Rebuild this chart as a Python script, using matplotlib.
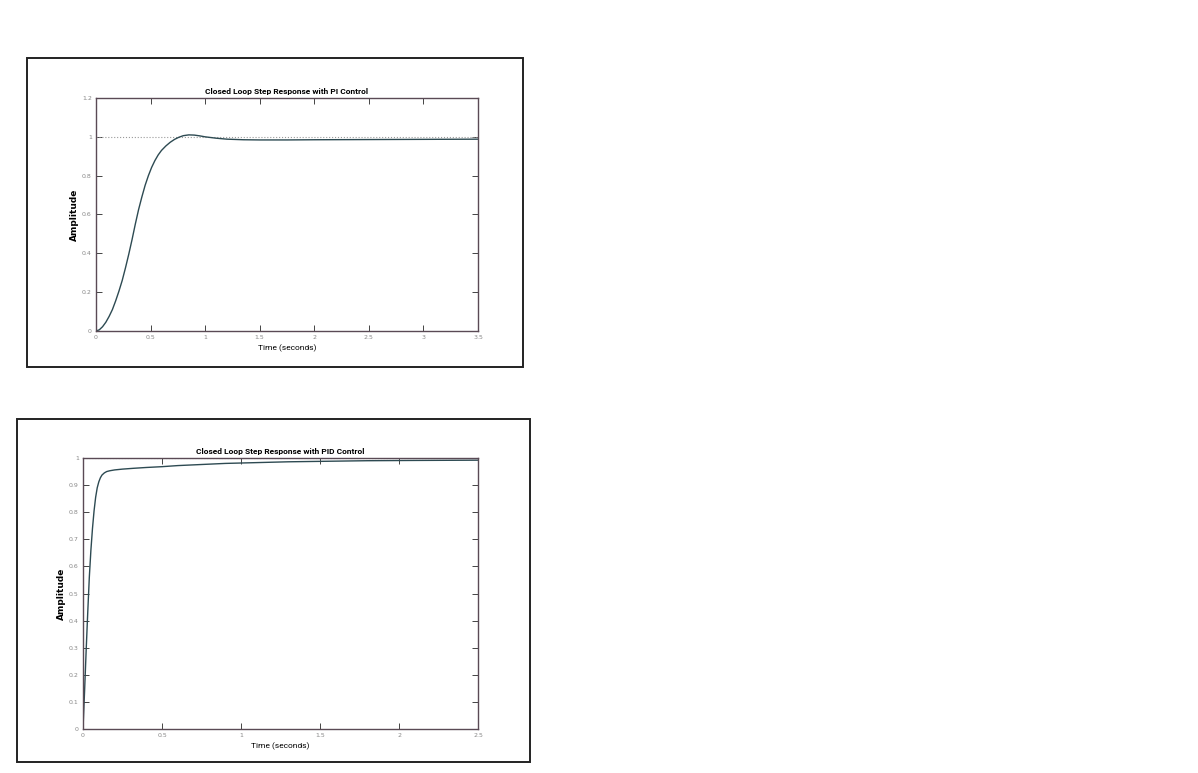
import matplotlib
matplotlib.use('Agg')
import matplotlib.pyplot as plt
from matplotlib.patches import Rectangle

# ---- data read from the scanned step responses ----
PI_T = [0, 0.03, 0.06, 0.09, 0.12, 0.15, 0.18, 0.21, 0.24, 0.27, 0.30, 0.33,
        0.36, 0.39, 0.42, 0.45, 0.48, 0.51, 0.54, 0.57, 0.60, 0.64, 0.68,
        0.72, 0.76, 0.80, 0.85, 0.90, 0.95, 1.0, 1.1, 1.2, 1.35, 1.5, 1.75,
        2.0, 2.5, 3.0, 3.5]
PI_Y = [0, 0.006, 0.022, 0.045, 0.075, 0.11, 0.155, 0.205, 0.26, 0.325,
        0.395, 0.47, 0.55, 0.625, 0.69, 0.75, 0.80, 0.843, 0.878, 0.907,
        0.93, 0.953, 0.972, 0.987, 0.998, 1.006, 1.01, 1.009, 1.005, 1.0,
        0.993, 0.988, 0.985, 0.984, 0.984, 0.985, 0.986, 0.987, 0.988]

PID_T = [0, 0.01, 0.02, 0.03, 0.04, 0.05, 0.06, 0.07, 0.08, 0.09, 0.1,
         0.11, 0.12, 0.135, 0.15, 0.17, 0.2, 0.25, 0.32, 0.4, 0.5, 0.6,
         0.75, 0.9, 1.1, 1.3, 1.55, 1.8, 2.1, 2.5]
PID_Y = [0, 0.14, 0.29, 0.43, 0.56, 0.66, 0.74, 0.805, 0.855, 0.89, 0.912,
         0.927, 0.937, 0.945, 0.95, 0.953, 0.956, 0.959, 0.962, 0.965, 0.968,
         0.972, 0.976, 0.98, 0.983, 0.986, 0.988, 0.99, 0.991, 0.992]

PI_XTICKS = [0, 0.5, 1, 1.5, 2, 2.5, 3, 3.5]
PI_XLABELS = ['0', '0.5', '1', '1.5', '2', '2.5', '3', '3.5']
PI_YTICKS = [0, 0.2, 0.4, 0.6, 0.8, 1, 1.2]
PI_YLABELS = ['0', '0.2', '0.4', '0.6', '0.8', '1', '1.2']

PID_XTICKS = [0, 0.5, 1, 1.5, 2, 2.5]
PID_XLABELS = ['0', '0.5', '1', '1.5', '2', '2.5']
PID_YTICKS = [0, 0.1, 0.2, 0.3, 0.4, 0.5, 0.6, 0.7, 0.8, 0.9, 1]
PID_YLABELS = ['0', '0.1', '0.2', '0.3', '0.4', '0.5', '0.6', '0.7', '0.8',
               '0.9', '1']

W, H = 1198, 773
LINE_C = '#2d4a52'
SPINE_C = '#5a4a55'
NARROW = ['Liberation Sans Narrow', 'Roboto', 'DejaVu Sans']


def px_rect(x0, y0, x1, y1):
    """pixel box (top-left origin) -> figure fraction [l, b, w, h]"""
    return [x0 / W, 1 - y1 / H, (x1 - x0) / W, (y1 - y0) / H]


def style_axes(ax, xticks, xlabels, yticks, ylabels, title):
    for s in ax.spines.values():
        s.set_color(SPINE_C)
        s.set_linewidth(1.0)
    ax.set_xticks(xticks)
    ax.set_xticklabels(xlabels)
    ax.set_yticks(yticks)
    ax.set_yticklabels(ylabels)
    ax.tick_params(direction='in', length=4, width=0.7, color='#444444',
                   labelsize=4.5, labelcolor='#888888', top=True, right=True,
                   pad=3)
    ax.set_title(title, fontsize=6, fontweight='bold', family=NARROW, pad=3)
    ax.set_xlabel('Time (seconds)', fontsize=6, family=NARROW, labelpad=3)
    ax.set_ylabel('Amplitude', fontsize=6.5, fontweight='bold', labelpad=2)


fig = plt.figure(figsize=(W / 100, H / 100), dpi=100)

# outer paper frames
for box in [(27, 58, 523, 367), (17, 419, 530, 762)]:
    l, b, w, h = px_rect(*box)
    fig.add_artist(Rectangle((l, b), w, h, transform=fig.transFigure,
                             fill=False, ec='#222222', lw=1.4))

# ---- PI ----
ax1 = fig.add_axes(px_rect(96, 98, 478, 331))
ax1.plot([0, 3.5], [1, 1], color='#999999', lw=0.8, ls=':')
ax1.plot(PI_T, PI_Y, color=LINE_C, lw=1.0)
ax1.set_xlim(0, 3.5)
ax1.set_ylim(0, 1.2)
style_axes(ax1, PI_XTICKS, PI_XLABELS, PI_YTICKS, PI_YLABELS,
           'Closed Loop Step Response with PI Control')

# ---- PID ----
ax2 = fig.add_axes(px_rect(83, 458, 478, 729))
ax2.plot([0, 2.5], [1, 1], color='#999999', lw=0.8, ls=':')
ax2.plot(PID_T, PID_Y, color=LINE_C, lw=1.0)
ax2.set_xlim(0, 2.5)
ax2.set_ylim(0, 1)
style_axes(ax2, PID_XTICKS, PID_XLABELS, PID_YTICKS, PID_YLABELS,
           'Closed Loop Step Response with PID Control')

fig.savefig('out.png', dpi=100)
